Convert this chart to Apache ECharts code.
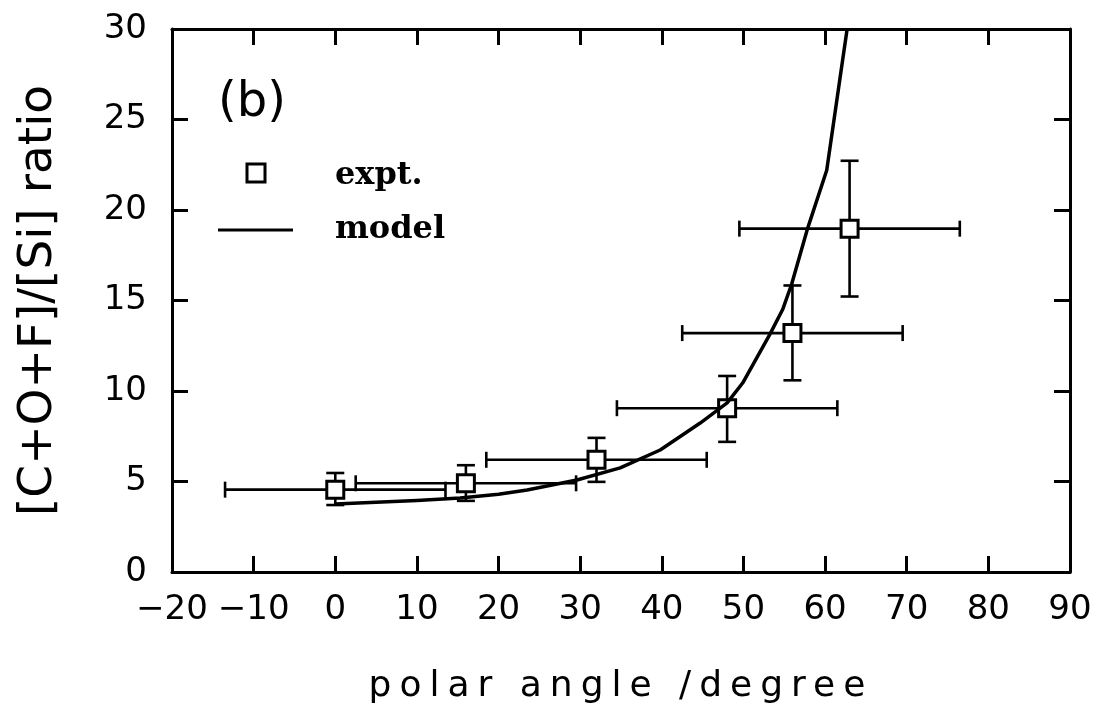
<!DOCTYPE html>
<html>
<head>
<meta charset="utf-8">
<script src="https://cdn.jsdelivr.net/npm/echarts@6/dist/echarts.min.js"></script>
<style>
html,body{margin:0;padding:0;background:#fff;}
#chart{width:1100px;height:712px;}
</style>
</head>
<body>
<div id="chart"></div>
<script>
// ---- data ----
const angles     = [0, 16, 32, 48, 56, 63];
const ratios     = [4.55, 4.9, 6.2, 9.05, 13.2, 18.97];
const ratioLow   = [3.7, 3.93, 4.98, 7.19, 10.59, 15.22];
const ratioHigh  = [5.47, 5.9, 7.41, 10.83, 15.83, 22.72];
const angleErr   = [13.5, 13.5, 13.5, 13.5, 13.5, 13.5];

const modelAngle = [0, 5, 10, 15.3, 20, 23.5, 29.6, 34.9, 39.8, 44.7, 48.0, 49.9, 53.2, 54.8, 55.9, 57.8, 60.2, 61.8, 62.7];
const modelRatio = [3.76, 3.85, 3.95, 4.09, 4.3, 4.53, 5.08, 5.75, 6.74, 8.23, 9.34, 10.44, 13.1, 14.5, 15.9, 18.9, 22.2, 27.2, 30.0];

const xTicks = [-20, 90, 10];   // min, max, interval
const yTicks = [0, 30, 5];

// letter spacing only for the wide x-axis title (font size 36px used only there)
(function(){
  const proto = CanvasRenderingContext2D.prototype;
  const orig = proto.fillText;
  proto.fillText = function(t, x, y, m){
    if ('letterSpacing' in this) {
      const f = this.font;
      this.letterSpacing = /(^|\s)36px/.test(f) ? '8px' : '0px';
      this.font = f;
    }
    return (m === undefined) ? orig.call(this, t, x, y) : orig.call(this, t, x, y, m);
  };
})();

const expData = angles.map((a, i) => [a, ratios[i], ratioLow[i], ratioHigh[i], angleErr[i]]);
const modelData = modelAngle.map((a, i) => [a, modelRatio[i]]);

const FONT = 'DejaVu Sans';
const chart = echarts.init(document.getElementById('chart'), null, {renderer: 'canvas'});

const axisCommon = {
  type: 'value',
  axisLine: {show: true, onZero: false, lineStyle: {color: '#000', width: 3}},
  axisTick: {show: true, inside: true, length: 16, lineStyle: {color: '#000', width: 3}},
  splitLine: {show: false}
};

const option = {
  backgroundColor: '#fff',
  animation: false,
  grid: {left: 172, right: 30, top: 29, bottom: 140, containLabel: false},
  xAxis: [
    Object.assign({}, axisCommon, {
      min: xTicks[0], max: xTicks[1], interval: xTicks[2], position: 'bottom',
      axisLabel: {show: true, fontFamily: FONT, fontSize: 34, color: '#000', margin: 21,
        formatter: v => v < 0 ? '\u2212' + Math.abs(v) : String(v)},
      name: 'polar angle /degree', nameLocation: 'middle', nameGap: 97,
      nameTextStyle: {fontFamily: FONT, fontSize: 36, color: '#000'}
    }),
    Object.assign({}, axisCommon, {
      min: xTicks[0], max: xTicks[1], interval: xTicks[2], position: 'top',
      axisLabel: {show: false}
    })
  ],
  yAxis: [
    Object.assign({}, axisCommon, {
      min: yTicks[0], max: yTicks[1], interval: yTicks[2], position: 'left',
      axisLabel: {show: true, fontFamily: FONT, fontSize: 34, color: '#000', margin: 25},
      name: '[C+O+F]/[Si] ratio', nameLocation: 'middle', nameGap: 110, nameRotate: 90,
      nameTextStyle: {fontFamily: FONT, fontSize: 47, color: '#000'}
    }),
    Object.assign({}, axisCommon, {
      min: yTicks[0], max: yTicks[1], interval: yTicks[2], position: 'right',
      axisLabel: {show: false}
    })
  ],
  series: [
    {
      name: 'errors', type: 'custom', xAxisIndex: 0, yAxisIndex: 0, z: 2,
      data: expData,
      renderItem: function(params, api){
        const x = api.value(0), y = api.value(1), lo = api.value(2), hi = api.value(3), ex = api.value(4);
        const pL = api.coord([x - ex, y]), pR = api.coord([x + ex, y]);
        const pT = api.coord([x, hi]), pB = api.coord([x, lo]);
        const st = {stroke: '#000', lineWidth: 2.6};
        const ch = 8, cw = 9;
        return {type: 'group', children: [
          {type: 'line', shape: {x1: pL[0], y1: pL[1], x2: pR[0], y2: pR[1]}, style: st},
          {type: 'line', shape: {x1: pL[0], y1: pL[1] - ch, x2: pL[0], y2: pL[1] + ch}, style: st},
          {type: 'line', shape: {x1: pR[0], y1: pR[1] - ch, x2: pR[0], y2: pR[1] + ch}, style: st},
          {type: 'line', shape: {x1: pT[0], y1: pT[1], x2: pB[0], y2: pB[1]}, style: st},
          {type: 'line', shape: {x1: pT[0] - cw, y1: pT[1], x2: pT[0] + cw, y2: pT[1]}, style: st},
          {type: 'line', shape: {x1: pB[0] - cw, y1: pB[1], x2: pB[0] + cw, y2: pB[1]}, style: st}
        ]};
      }
    },
    {
      name: 'expt.', type: 'scatter', z: 3, symbol: 'rect', symbolSize: 17,
      data: expData.map(d => [d[0], d[1]]),
      itemStyle: {color: '#fff', borderColor: '#000', borderWidth: 3, opacity: 1}
    },
    {
      name: 'model', type: 'line', z: 4, data: modelData, showSymbol: false,
      smooth: false,
      lineStyle: {color: '#000', width: 3.5, join: 'round'}, clip: true
    }
  ],
  graphic: [
    {type: 'text', left: 218, top: 80, z: 10,
      style: {text: '(b)', font: '48px "DejaVu Sans"', fill: '#000'}},
    {type: 'rect', shape: {x: 247, y: 164, width: 18, height: 18}, z: 10,
      style: {fill: '#fff', stroke: '#000', lineWidth: 3}},
    {type: 'text', left: 335, top: 160, z: 10,
      style: {text: 'expt.', font: 'bold 32px "DejaVu Serif"', fill: '#000'}},
    {type: 'line', shape: {x1: 218, y1: 230, x2: 293, y2: 230}, z: 10,
      style: {stroke: '#000', lineWidth: 3}},
    {type: 'text', left: 335, top: 214, z: 10,
      style: {text: 'model', font: 'bold 32px "DejaVu Serif"', fill: '#000'}}
  ]
};
chart.setOption(option);
</script>
</body>
</html>
